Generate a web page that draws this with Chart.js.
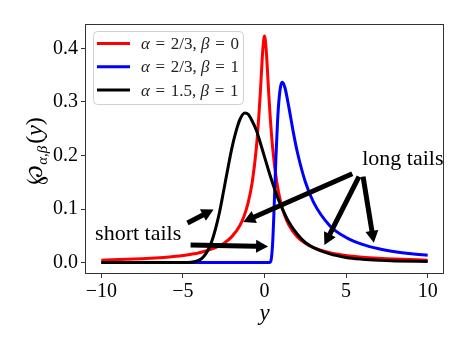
<!DOCTYPE html>
<html>
<head>
<meta charset="utf-8">
<script src="https://cdn.jsdelivr.net/npm/chart.js@4"></script>
<style>
    html, body { margin: 0; padding: 0; background: #fff; }
    canvas { display: block; }
</style>
</head>
<body>
<canvas id="chart" width="469" height="351"></canvas>
<script>
// densities
const redX = [-10, -8, -7, -6, -5, -4, -3, -2.5, -2, -1.5, -1.25, -1, -0.75, -0.5, -0.35, -0.25, -0.2, -0.1, 0, 0.1, 0.2, 0.25, 0.35, 0.5, 0.75, 1, 1.25, 1.5, 2, 2.5, 3, 4, 5, 6, 7, 8, 10];
const redY = [0.0046, 0.0065, 0.0080, 0.0101, 0.0133, 0.0185, 0.0279, 0.0359, 0.0485, 0.0699, 0.0871, 0.112, 0.1505, 0.214, 0.272, 0.320, 0.348, 0.399, 0.423, 0.399, 0.348, 0.320, 0.272, 0.214, 0.1505, 0.112, 0.0871, 0.0699, 0.0485, 0.0359, 0.0279, 0.0185, 0.0133, 0.0101, 0.0080, 0.0065, 0.0046];

const blueX = [-10, 0.3, 0.4, 0.5, 0.6, 0.7, 0.8, 0.9, 1.0, 1.1, 1.25, 1.5, 1.75, 2, 2.5, 3, 4, 5, 6, 7, 8, 9, 10];
const blueY = [0, 0, 0.004, 0.037, 0.111, 0.196, 0.264, 0.308, 0.331, 0.337, 0.327, 0.289, 0.246, 0.208, 0.151, 0.113, 0.069, 0.047, 0.034, 0.0257, 0.0202, 0.0164, 0.0136];

const blackX = [-10, -5, -4.5, -4, -3.75, -3.5, -3.25, -3, -2.75, -2.5, -2.25, -2, -1.75, -1.5, -1.2, -1, -0.75, -0.5, -0.25, 0, 0.25, 0.5, 0.75, 1, 1.5, 2, 2.5, 3, 4, 5, 6, 7, 8, 10];
const blackY = [0, 0.0001, 0.0007, 0.0047, 0.0105, 0.0211, 0.038, 0.0632, 0.095, 0.1347, 0.175, 0.2137, 0.2445, 0.2677, 0.2792, 0.2769, 0.264, 0.2473, 0.223, 0.1975, 0.172, 0.148, 0.126, 0.107, 0.0753, 0.0534, 0.0375, 0.0281, 0.0162, 0.0097, 0.0064, 0.0044, 0.0032, 0.0019];

const xTicks = [-10, -5, 0, 5, 10];
const yTicks = [0, 0.1, 0.2, 0.3, 0.4];

// legend labels: italic / upright pieces alternate
const legendParts = [
    ['α', ' \u200A=\u200A 2/3, ', 'β', ' \u200A=\u200A 0'],
    ['α', ' \u200A=\u200A 2/3, ', 'β', ' \u200A=\u200A 1'],
    ['α', ' \u200A=\u200A 1.5, ', 'β', ' \u200A=\u200A 1']
];
const colors = ['#ff0000', '#0000ff', '#000000'];

// annotations (data coordinates)
const noteTexts = ['short tails', 'long tails'];
const noteX = [-10.38, 5.99];
const noteY = [0.042, 0.183];
const arrowFrom = [[-4.72, 0.074], [-4.53, 0.033], [5.38, 0.166], [5.79, 0.1605], [6.04, 0.1605]];
const arrowTo = [[-3.12, 0.099], [0.22, 0.030], [-1.30, 0.076], [3.67, 0.033], [6.70, 0.037]];

const SERIF = "'Liberation Serif', 'DejaVu Serif', serif";

function zip(xs, ys) {
    return xs.map((x, i) => ({ x: x, y: ys[i] }));
}

function drawParts(ctx, parts, x, y, size) {
    parts.forEach((p, i) => {
        ctx.font = (i % 2 === 0 ? 'italic ' : '') + size + 'px ' + SERIF;
        ctx.fillText(p, x, y);
        x += ctx.measureText(p).width;
    });
}

function arrow(ctx, x1, y1, x2, y2) {
    const dx = x2 - x1, dy = y2 - y1, len = Math.hypot(dx, dy);
    const ux = dx / len, uy = dy / len, nx = -uy, ny = ux;
    const hl = 12, hw = 6.5, sw = 2.5;
    const bx = x2 - ux * hl, by = y2 - uy * hl;
    ctx.beginPath();
    ctx.moveTo(x1 + nx * sw, y1 + ny * sw);
    ctx.lineTo(bx + nx * sw, by + ny * sw);
    ctx.lineTo(bx + nx * hw, by + ny * hw);
    ctx.lineTo(x2, y2);
    ctx.lineTo(bx - nx * hw, by - ny * hw);
    ctx.lineTo(bx - nx * sw, by - ny * sw);
    ctx.lineTo(x1 - nx * sw, y1 - ny * sw);
    ctx.closePath();
    ctx.fill();
}

const decorations = {
    id: 'decorations',
    afterDatasetsDraw(chart) {
        const { ctx, chartArea: a, scales: { x, y } } = chart;
        ctx.save();

        // frame
        ctx.strokeStyle = '#333';
        ctx.lineWidth = 1;
        ctx.strokeRect(a.left + 0.5, a.top + 0.5, a.right - a.left - 1, a.bottom - a.top - 1);

        // arrows
        ctx.fillStyle = '#000';
        arrowFrom.forEach((f, i) => {
            const t = arrowTo[i];
            arrow(ctx, x.getPixelForValue(f[0]), y.getPixelForValue(f[1]),
                x.getPixelForValue(t[0]), y.getPixelForValue(t[1]));
        });

        // notes
        ctx.font = '22px ' + SERIF;
        ctx.textAlign = 'left';
        ctx.textBaseline = 'alphabetic';
        noteTexts.forEach((s, i) => {
            ctx.fillText(s, x.getPixelForValue(noteX[i]), y.getPixelForValue(noteY[i]));
        });

        // legend
        const lx = a.left + 8, ly = a.top + 7, lw = 150, lh = 73;
        ctx.beginPath();
        ctx.roundRect(lx + 0.5, ly + 0.5, lw, lh, 4);
        ctx.fillStyle = 'rgba(255,255,255,0.8)';
        ctx.fill();
        ctx.strokeStyle = '#d0d0d0';
        ctx.stroke();
        legendParts.forEach((parts, i) => {
            const yy = ly + 12.5 + i * 23.3;
            ctx.strokeStyle = colors[i];
            ctx.lineWidth = 3;
            ctx.beginPath();
            ctx.moveTo(lx + 4, yy);
            ctx.lineTo(lx + 37, yy);
            ctx.stroke();
            ctx.fillStyle = '#222';
            ctx.textBaseline = 'middle';
            drawParts(ctx, parts, lx + 48, yy + 1, 17);
        });
        ctx.restore();
    },
    afterDraw(chart) {
        const { ctx, chartArea: a } = chart;
        ctx.save();
        ctx.fillStyle = '#000';
        ctx.textBaseline = 'alphabetic';

        // x label
        ctx.font = 'italic 23px ' + SERIF;
        ctx.textAlign = 'center';
        ctx.fillText('y', (a.left + a.right) / 2, 320);

        // y label: ℘_{α,β}(y)
        ctx.translate(42, (a.top + a.bottom) / 2 + 2);
        ctx.rotate(-Math.PI / 2);
        ctx.textAlign = 'left';
        const pFont = "24px 'DejaVu Serif', serif";
        const subFont = 'italic 15px ' + SERIF;
        const bigFont = '24px ' + SERIF;
        const itFont = 'italic 24px ' + SERIF;
        ctx.font = pFont; const w1 = ctx.measureText('℘').width;
        ctx.font = subFont; const w2 = ctx.measureText('α,β').width;
        ctx.font = bigFont; const w3 = ctx.measureText('()').width;
        ctx.font = itFont; const w4 = ctx.measureText('y').width;
        let px = -(w1 + w2 + w3 + w4 + 2) / 2;
        ctx.font = pFont; ctx.fillText('℘', px, 0); px += w1;
        ctx.font = subFont; ctx.fillText('α,β', px, 5); px += w2 + 2;
        ctx.font = bigFont; ctx.fillText('(', px, 0); px += ctx.measureText('(').width;
        ctx.font = itFont; ctx.fillText('y', px, 0); px += w4;
        ctx.font = bigFont; ctx.fillText(')', px, 0);
        ctx.restore();
    }
};

const tickFont = { family: SERIF, size: 20 };

new Chart(document.getElementById('chart'), {
    type: 'line',
    data: {
        datasets: [
            { data: zip(redX, redY), borderColor: colors[0], order: 2 },
            { data: zip(blueX, blueY), borderColor: colors[1], order: 1 },
            { data: zip(blackX, blackY), borderColor: colors[2], order: 0 }
        ]
    },
    options: {
        responsive: false,
        animation: false,
        devicePixelRatio: 1,
        layout: { padding: { top: 24, right: 25, left: 0, bottom: 0 } },
        elements: {
            line: { borderWidth: 3, cubicInterpolationMode: 'monotone', fill: false },
            point: { radius: 0, hoverRadius: 0 }
        },
        plugins: { legend: { display: false }, tooltip: { enabled: false } },
        scales: {
            x: {
                type: 'linear',
                min: -11,
                max: 11,
                afterBuildTicks: s => { s.ticks = xTicks.map(v => ({ value: v })); },
                afterFit: s => { s.height = 77; },
                border: { display: false },
                grid: { drawOnChartArea: false, drawTicks: true, tickLength: 4, color: '#333' },
                ticks: {
                    font: tickFont, color: '#000', padding: 2, maxRotation: 0,
                    callback: v => v < 0 ? '\u2212' + Math.abs(v) : String(v)
                }
            },
            y: {
                type: 'linear',
                min: -0.0213,
                max: 0.4456,
                afterBuildTicks: s => { s.ticks = yTicks.map(v => ({ value: v })); },
                afterFit: s => { s.width = 85; },
                border: { display: false },
                grid: { drawOnChartArea: false, drawTicks: true, tickLength: 4, color: '#333' },
                ticks: {
                    font: tickFont, color: '#000', padding: 3,
                    callback: v => v.toFixed(1)
                }
            }
        }
    },
    plugins: [decorations]
});
</script>
</body>
</html>
